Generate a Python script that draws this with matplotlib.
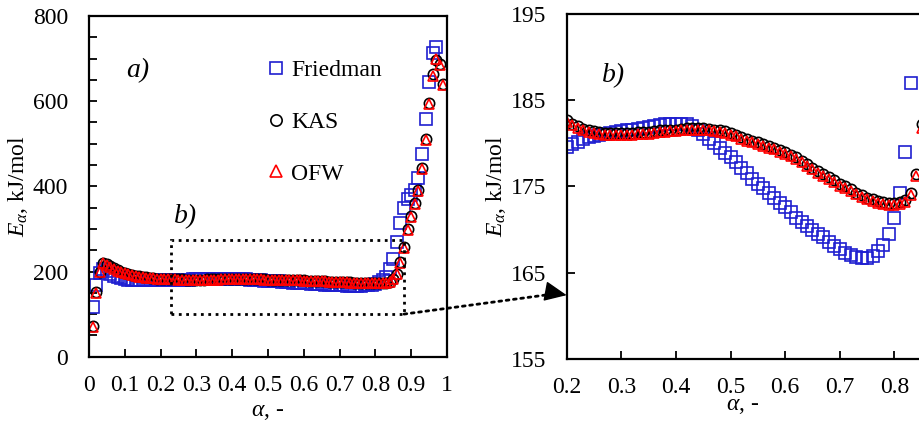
import numpy as np
import matplotlib.pyplot as plt
from matplotlib.patches import Rectangle, ConnectionPatch
from matplotlib.ticker import MultipleLocator, FixedLocator, FuncFormatter

plt.rcParams['font.family'] = 'Liberation Serif'
plt.rcParams['mathtext.fontset'] = 'custom'
plt.rcParams['mathtext.rm'] = 'Liberation Serif'
plt.rcParams['mathtext.it'] = 'Liberation Serif:italic'

# conversion degree, 0.01 ... 0.99
alpha = np.round(np.arange(1, 100) / 100, 2)

ea_friedman = [
    117, 168, 196, 207, 201, 195, 190, 187, 184.5, 182.5,
    181.2, 180.3, 179.7, 179.3, 179.1, 179.0, 179.1, 179.2, 179.4, 179.6,
    179.9, 180.2, 180.5, 180.7, 180.9, 181.0, 181.1, 181.2, 181.3, 181.4,
    181.5, 181.6, 181.7, 181.8, 181.9, 182.0, 182.1, 182.2, 182.3, 182.3,
    182.3, 182.2, 182.0, 181.6, 181.1, 180.5, 180.0, 179.5, 178.9, 178.4,
    177.8, 177.2, 176.6, 175.9, 175.3, 174.8, 174.2, 173.7, 173.1, 172.6,
    172.0, 171.4, 170.9, 170.4, 169.9, 169.5, 169.1, 168.6, 168.1, 167.7,
    167.3, 167.0, 166.8, 166.7, 166.7, 166.9, 167.5, 168.2, 169.5, 171.4,
    174.3, 179.0, 187.0, 205, 230, 270, 315, 348, 370, 380,
    391, 420, 477, 557, 646, 712, 728, np.nan, np.nan,
]

ea_kas = [
    72, 152, 200, 221, 218, 213, 208, 204, 200, 197,
    194.5, 192.3, 190.4, 188.8, 187.4, 186.2, 185.1, 184.2, 183.4, 182.7,
    182.3, 182.0, 181.7, 181.5, 181.4, 181.3, 181.2, 181.2, 181.2, 181.2,
    181.2, 181.2, 181.3, 181.3, 181.3, 181.4, 181.5, 181.5, 181.6, 181.6,
    181.7, 181.8, 181.8, 181.8, 181.8, 181.7, 181.6, 181.5, 181.4, 181.2,
    181.0, 180.7, 180.5, 180.3, 180.1, 179.9, 179.7, 179.5, 179.2, 179.0,
    178.7, 178.4, 178.0, 177.6, 177.2, 176.8, 176.4, 176.1, 175.7, 175.3,
    175.0, 174.7, 174.3, 174.0, 173.7, 173.5, 173.3, 173.2, 173.1, 173.1,
    173.2, 173.4, 174.2, 176.4, 182.2, 195, 222, 258, 299, 330,
    360, 391, 442, 512, 595, 663, 696, 688, 641,
]

ea_ofw = [
    70, 150, 198, 219, 216, 211, 206, 202, 198.5, 195.8,
    193.5, 191.5, 189.8, 188.3, 187.0, 185.9, 184.9, 184.0, 183.2, 182.5,
    182.1, 181.8, 181.5, 181.3, 181.2, 181.1, 181.0, 181.0, 181.0, 181.0,
    181.0, 181.0, 181.1, 181.1, 181.1, 181.2, 181.3, 181.3, 181.4, 181.4,
    181.5, 181.6, 181.6, 181.6, 181.6, 181.5, 181.4, 181.3, 181.2, 181.0,
    180.8, 180.5, 180.3, 180.1, 179.9, 179.7, 179.5, 179.3, 179.0, 178.8,
    178.5, 178.2, 177.8, 177.4, 177.0, 176.6, 176.2, 175.9, 175.5, 175.1,
    174.8, 174.5, 174.1, 173.8, 173.5, 173.3, 173.1, 173.0, 172.9, 172.9,
    173.0, 173.2, 174.0, 176.2, 181.8, 194, 220, 256, 297, 328,
    358, 389, 440, 510, 593, 660, 700, 686, 637,
]

series = [
    ('Friedman', ea_friedman, dict(marker='s', color='#1f1fd0', ms=8.0)),
    ('KAS', ea_kas, dict(marker='o', color='black', ms=7.4)),
    ('OFW', ea_ofw, dict(marker='^', color='red', ms=7.8)),
]

fig = plt.figure(figsize=(9.19, 4.26), dpi=100)
ax1 = fig.add_axes([0.0968, 0.1627, 0.3896, 0.7997])
ax2 = fig.add_axes([0.6166, 0.1573, 0.3834, 0.8099])

for ax in (ax1, ax2):
    for name, ea, st in series:
        ax.plot(alpha, ea, linestyle='none', marker=st['marker'], ms=st['ms'],
                mfc='none', mec=st['color'], mew=1.2, label=name)
    ax.tick_params(which='both', direction='in', labelsize=17, width=1.3, length=6)
    ax.tick_params(axis='x', pad=13)
    ax.tick_params(axis='y', pad=15)
    for sp in ax.spines.values():
        sp.set_linewidth(1.6)
    ax.set_ylabel(r'$E_\alpha$, kJ/mol', fontsize=17, labelpad=2)

fmt = FuncFormatter(lambda v, p: f'{v:g}')

# panel a
ax1.set_xlim(0, 1)
ax1.set_ylim(0, 800)
ax1.xaxis.set_major_locator(MultipleLocator(0.1))
ax1.xaxis.set_major_formatter(fmt)
ax1.yaxis.set_major_locator(MultipleLocator(200))
ax1.yaxis.set_minor_locator(MultipleLocator(50))
ax1.set_xlabel(r'$\alpha$, -', fontsize=17, labelpad=4)
ax1.text(0.137, 672, 'a)', fontsize=20, style='italic', ha='center', va='center')
ax1.text(0.27, 328, 'b)', fontsize=20, style='italic', ha='center', va='center')
ax1.add_patch(Rectangle((0.23, 100), 0.65, 175, fill=False, ls=':', lw=2, ec='black', zorder=5))
ax1.legend(loc='upper left', bbox_to_anchor=(0.475, 0.90), frameon=False, fontsize=17,
           handlelength=0.6, handletextpad=0.35, labelspacing=1.28, borderaxespad=0,
           markerscale=1.1)

# panel b
ax2.set_xlim(0.2, 0.845)
ax2.set_ylim(155, 195)
ax2.xaxis.set_major_locator(MultipleLocator(0.1))
ax2.xaxis.set_major_formatter(FuncFormatter(lambda v, p: f'{v:.1f}'))
ax2.yaxis.set_major_locator(FixedLocator([155, 165, 175, 185, 195]))
ax2.spines['right'].set_visible(False)
ax2.tick_params(right=False)
ax2.set_xlabel(r'$\alpha$, -', fontsize=17, labelpad=-2)
ax2.text(0.285, 187.8, 'b)', fontsize=20, style='italic', ha='center', va='center')

# dotted zoom line with a solid head
line = ConnectionPatch(xyA=(0.88, 100), coordsA=ax1.transData,
                       xyB=(0.183, 162.6), coordsB=ax2.transData,
                       arrowstyle='-', ls=':', lw=2, color='black')
fig.add_artist(line)
head = ConnectionPatch(xyA=(0.183, 162.6), coordsA=ax2.transData,
                       xyB=(0.2, 162.4), coordsB=ax2.transData,
                       arrowstyle='-|>,head_length=1.0,head_width=0.45', lw=1,
                       color='black', mutation_scale=14, shrinkA=0, shrinkB=0)
fig.add_artist(head)

fig.savefig('out.png', dpi=100)
